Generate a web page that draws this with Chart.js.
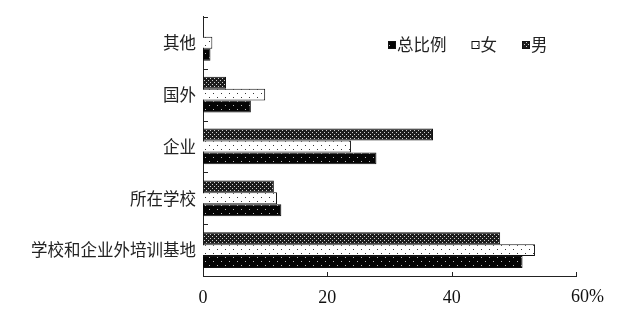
<!DOCTYPE html>
<html>
<head>
<meta charset="utf-8">
<script src="https://cdn.jsdelivr.net/npm/chart.js@4"></script>
<style>
  html, body { margin: 0; padding: 0; background: #fff; }
  #wrap { width: 626px; height: 316px; }
</style>
</head>
<body>
<div id="wrap"><canvas id="chart" width="626" height="316"></canvas></div>
<script>
const categories = ["其他", "国外", "企业", "所在学校", "学校和企业外培训基地"];
const maleValues = [0, 3.7, 37.0, 11.4, 47.8];
const femaleValues = [1.5, 10.0, 23.8, 11.9, 53.4];
const totalValues = [1.2, 7.7, 27.9, 12.6, 51.4];
const xTicks = [0, 20, 40, 60];

const cjkFont = '"Noto Sans CJK SC", sans-serif';
const numFont = '"Liberation Serif", "DejaVu Serif", serif';

function makePattern(ctx, size, base, dot, dots) {
    const c = document.createElement("canvas");
    c.width = size;
    c.height = size;
    const p = c.getContext("2d");
    p.fillStyle = base;
    p.fillRect(0, 0, size, size);
    p.fillStyle = dot;
    dots.forEach(([x, y]) => p.fillRect(x, y, 1, 1));
    return ctx.createPattern(c, "repeat");
}

const canvas = document.getElementById("chart");
const ctx = canvas.getContext("2d");

const malePattern = makePattern(ctx, 4, "#1c1c1c", "#cfcfcf", [[0, 0], [2, 2]]);
const femalePattern = makePattern(ctx, 8, "#ffffff", "#333333", [[1, 1], [5, 5]]);
const totalPattern = makePattern(ctx, 8, "#050505", "#bdbdbd", [[1, 1], [5, 5]]);

// inward ticks on both axes
const inwardTicks = {
    id: "inwardTicks",
    afterDraw(chart) {
        const { ctx, chartArea, scales } = chart;
        const y = scales.y;
        const x = scales.x;
        ctx.save();
        ctx.strokeStyle = "#222";
        ctx.lineWidth = 1;
        const step = categories.length > 1
            ? y.getPixelForValue(1) - y.getPixelForValue(0) : chartArea.height;
        for (let i = 0; i <= categories.length; i++) {
            const py = Math.round(y.getPixelForValue(i) - step / 2) + 0.5;
            ctx.beginPath();
            ctx.moveTo(chartArea.left, py);
            ctx.lineTo(chartArea.left + 5, py);
            ctx.stroke();
        }
        xTicks.forEach((v) => {
            if (v === 0) return;
            const px = Math.round(x.getPixelForValue(v)) + 0.5;
            ctx.beginPath();
            ctx.moveTo(px, chartArea.bottom);
            ctx.lineTo(px, chartArea.bottom - 4);
            ctx.stroke();
        });
        // last tick label carries the % sign, set a bit right of its tick
        const last = xTicks[xTicks.length - 1];
        ctx.fillStyle = "#111";
        ctx.font = "18px " + numFont;
        ctx.textAlign = "left";
        ctx.textBaseline = "middle";
        ctx.fillText(last + "%", x.getPixelForValue(last) - 5, chartArea.bottom + 21);
        ctx.restore();
    },
};

// legend drawn inside the plot, top right
const insideLegend = {
    id: "insideLegend",
    afterDraw(chart) {
        const { ctx } = chart;
        const order = [2, 1, 0];
        let px = 388;
        const py = 45;
        ctx.save();
        ctx.font = "16.5px " + cjkFont;
        ctx.textBaseline = "middle";
        ctx.textAlign = "left";
        order.forEach((i) => {
            const ds = chart.data.datasets[i];
            ctx.fillStyle = ds.backgroundColor;
            ctx.fillRect(px, py - 4, 8, 8);
            ctx.strokeStyle = "#111";
            ctx.lineWidth = 1;
            ctx.strokeRect(px + 0.5, py - 3.5, 7, 7);
            ctx.fillStyle = "#222";
            ctx.fillText(ds.label, px + 9, py);
            px += 9 + ctx.measureText(ds.label).width + 25;
        });
        ctx.restore();
    },
};

new Chart(ctx, {
    type: "bar",
    data: {
        labels: categories,
        datasets: [
            { label: "男", data: maleValues, backgroundColor: malePattern },
            { label: "女", data: femaleValues, backgroundColor: femalePattern },
            { label: "总比例", data: totalValues, backgroundColor: totalPattern },
        ],
    },
    options: {
        indexAxis: "y",
        responsive: false,
        animation: false,
        layout: { padding: { top: 15, right: 50, left: 0, bottom: 0 } },
        datasets: {
            bar: {
                borderColor: "#111",
                borderWidth: 1,
                barPercentage: 1.0,
                categoryPercentage: 0.69,
            },
        },
        plugins: {
            legend: { display: false },
            tooltip: { enabled: false },
        },
        scales: {
            x: {
                min: 0,
                max: 60,
                afterBuildTicks: (s) => { s.ticks = xTicks.map((v) => ({ value: v })); },
                afterFit: (s) => { s.height = 40; },
                grid: { display: false, drawTicks: false },
                border: { display: true, color: "#222", width: 1 },
                ticks: {
                    color: "#111",
                    font: { family: numFont, size: 18 },
                    padding: 11,
                    maxRotation: 0,
                    callback: (v) => (v === xTicks[xTicks.length - 1] ? "" : v),
                },
            },
            y: {
                afterFit: (s) => { s.width = 203; },
                grid: { display: false, drawTicks: false },
                border: { display: true, color: "#222", width: 1 },
                ticks: {
                    color: "#222",
                    font: { family: cjkFont, size: 16.5 },
                    padding: 7,
                },
            },
        },
    },
    plugins: [inwardTicks, insideLegend],
});
</script>
</body>
</html>
